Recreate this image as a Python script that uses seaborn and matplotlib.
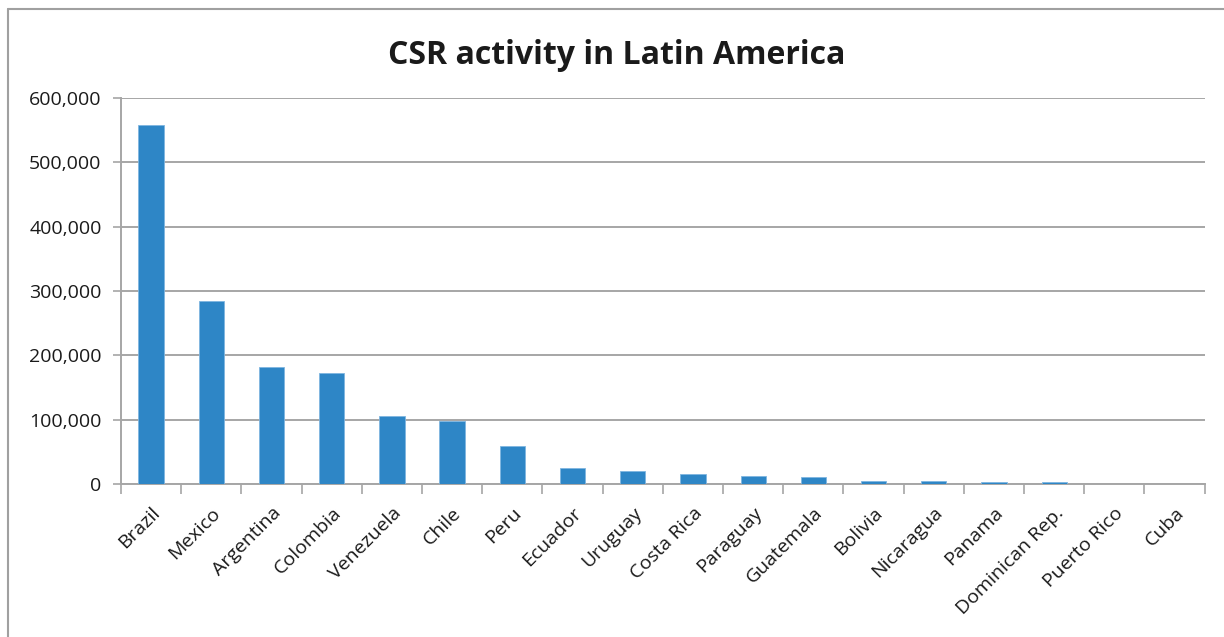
import matplotlib
matplotlib.use("Agg")
import matplotlib.pyplot as plt
import seaborn as sns
import numpy as np
from matplotlib.ticker import FuncFormatter, FixedLocator
from matplotlib.lines import Line2D

countries = ["Brazil", "Mexico", "Argentina", "Colombia", "Venezuela", "Chile", "Peru",
             "Ecuador", "Uruguay", "Costa Rica", "Paraguay", "Guatemala", "Bolivia",
             "Nicaragua", "Panama", "Dominican Rep.", "Puerto Rico", "Cuba"]
values = [557000, 285000, 182000, 172000, 105500, 98700, 59500, 25300, 20600, 15500,
          12900, 10900, 5700, 5700, 3100, 3100, 1200, 1200]
yticks = [0, 100000, 200000, 300000, 400000, 500000, 600000]
title = "CSR activity in Latin America"

sns.set_theme(style="white")
plt.rcParams['font.family'] = ['Open Sans', 'DejaVu Sans']

W, H = 1224, 637
fig = plt.figure(figsize=(W / 100, H / 100), dpi=100)
ax = fig.add_axes([121 / W, 1 - 484.3 / H, (1204.7 - 121) / W, (484.3 - 97.7) / H])

bar_color = "#2E86C6"
grid_color = "#A6A6A6"

sns.barplot(x=countries, y=values, color=bar_color, width=0.42, ax=ax,
            saturation=1, edgecolor="#7FB6E0", linewidth=0.6, zorder=3)

ax.set_ylim(0, 600000)
ax.set_xlim(-0.5, len(countries) - 0.5)
ax.yaxis.set_major_locator(FixedLocator(yticks))
ax.yaxis.set_major_formatter(FuncFormatter(lambda v, p: f"{int(v):,}"))
ax.grid(axis="y", color=grid_color, linewidth=1.4, zorder=0)
ax.set_axisbelow(True)

for s in ["top", "right"]:
    ax.spines[s].set_visible(False)
for s in ["left", "bottom"]:
    ax.spines[s].set_color(grid_color)
    ax.spines[s].set_linewidth(1.4)

ax.tick_params(axis="y", which="major", direction="out", length=6, width=1.2,
               color=grid_color, labelsize=14, labelcolor="#1a1a1a", pad=8, left=True)
ax.tick_params(axis="x", which="major", length=0, labelsize=14, labelcolor="#1a1a1a", pad=14)
ax.set_xticks(np.arange(-0.5, len(countries), 1.0), minor=True)
ax.tick_params(axis="x", which="minor", direction="out", length=7, width=1.2,
               color=grid_color, bottom=True)
plt.setp(ax.get_xticklabels(), rotation=45, ha="right", rotation_mode="anchor")
ax.set_xlabel("")
ax.set_ylabel("")

fig.text(617 / W, 1 - 55 / H, title, ha="center", va="center",
         fontsize=23, fontweight="bold", color="#1a1a1a")

# outer chart frame
fig.add_artist(Line2D([8 / W, 1.0], [1 - 9 / H, 1 - 9 / H], transform=fig.transFigure,
                      color="#A0A0A0", linewidth=1.5))
fig.add_artist(Line2D([8 / W, 8 / W], [0, 1 - 9 / H], transform=fig.transFigure,
                      color="#A0A0A0", linewidth=1.5))

fig.savefig("out.png", dpi=100, facecolor="white")
